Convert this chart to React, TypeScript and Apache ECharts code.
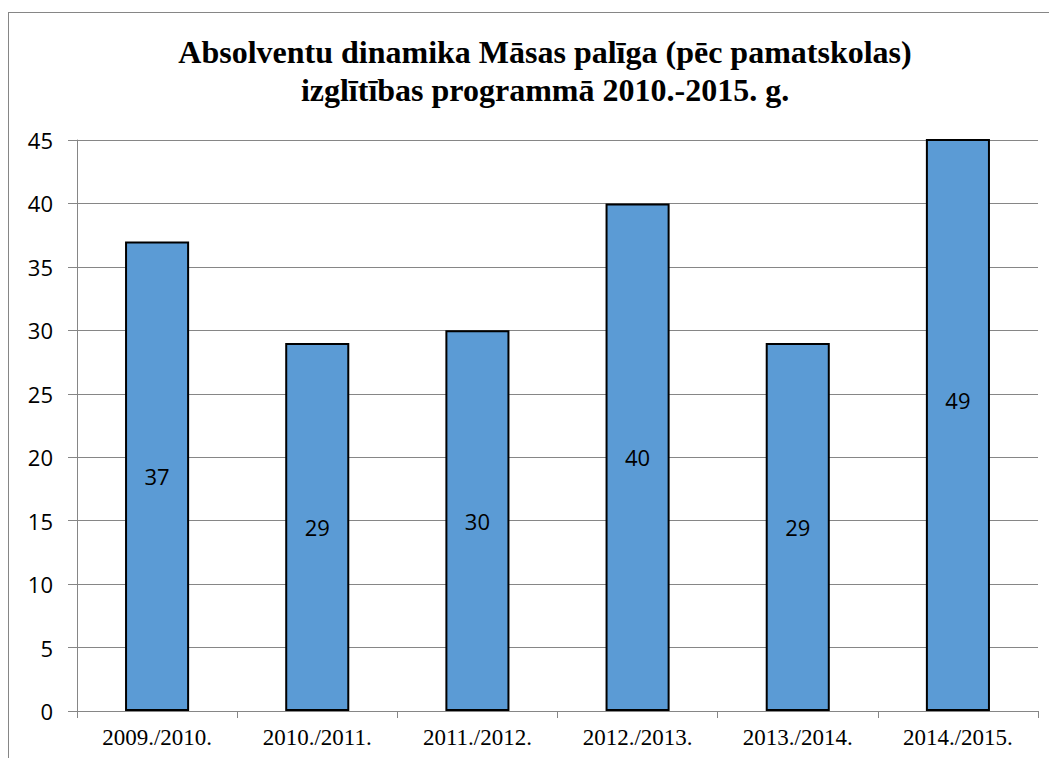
import React, { useEffect, useRef } from "react";
import * as echarts from "echarts";

const categories = ["2009./2010.", "2010./2011.", "2011./2012.", "2012./2013.", "2013./2014.", "2014./2015."];
const values = [37, 29, 30, 40, 29, 49];
const titleLines = ["Absolventu dinamika Māsas palīga (pēc pamatskolas)", "izglītības programmā 2010.-2015. g."];
const yMin = 0;
const yMax = 45;
const yStep = 5;

export default function App() {
  const ref = useRef<HTMLDivElement>(null);
  useEffect(() => {
    if (!ref.current) return;
    const chart = echarts.init(ref.current, undefined, { renderer: "svg" });
    const pxPerUnit = 571 / (yMax - yMin);
    chart.setOption({
      animation: false,
      backgroundColor: "#ffffff",
      title: {
        text: titleLines.join("\n"),
        left: 531,
        top: 15,
        textAlign: "center",
        textStyle: {
          fontFamily: "Liberation Serif",
          fontWeight: "bold",
          fontSize: 32,
          lineHeight: 38,
          color: "#000",
        },
      },
      grid: { left: 68, top: 127, width: 961, height: 571, containLabel: false },
      xAxis: {
        type: "category",
        data: categories,
        axisLine: { lineStyle: { color: "#868686", width: 1 } },
        axisTick: { show: true, length: 7, lineStyle: { color: "#868686" } },
        axisLabel: {
          fontFamily: "Liberation Serif",
          fontSize: 23,
          color: "#000",
          margin: 15,
        },
      },
      yAxis: {
        type: "value",
        min: yMin,
        max: yMax,
        interval: yStep,
        axisLine: { show: true, lineStyle: { color: "#868686", width: 1 } },
        axisTick: { show: true, length: 9, lineStyle: { color: "#868686" } },
        splitLine: { lineStyle: { color: "#868686", width: 1 } },
        axisLabel: {
          fontFamily: "Open Sans",
          fontSize: 22,
          color: "#000",
          margin: 24,
        },
      },
      series: [
        {
          type: "bar",
          data: values.map((v) => {
            const item: any = { value: v };
            if (v > yMax) {
              item.label = { offset: [0, -((v - yMax) / 2) * pxPerUnit] };
            }
            return item;
          }),
          barWidth: "40%",
          clip: true,
          itemStyle: { color: "#5B9BD5", borderColor: "#000", borderWidth: 2 },
          label: {
            show: true,
            position: "inside",
            fontFamily: "Open Sans",
            fontSize: 22,
            color: "#000",
          },
        },
      ],
    });
    return () => chart.dispose();
  }, []);
  return (
    <div style={{ width: 1049, height: 750, overflow: "hidden" }}>
      <div
        style={{
          marginTop: 4,
          width: 1060,
          height: 770,
          border: "1px solid #868686",
          boxSizing: "content-box",
        }}
      >
        <div ref={ref} style={{ width: 1060, height: 770 }} />
      </div>
    </div>
  );
}
